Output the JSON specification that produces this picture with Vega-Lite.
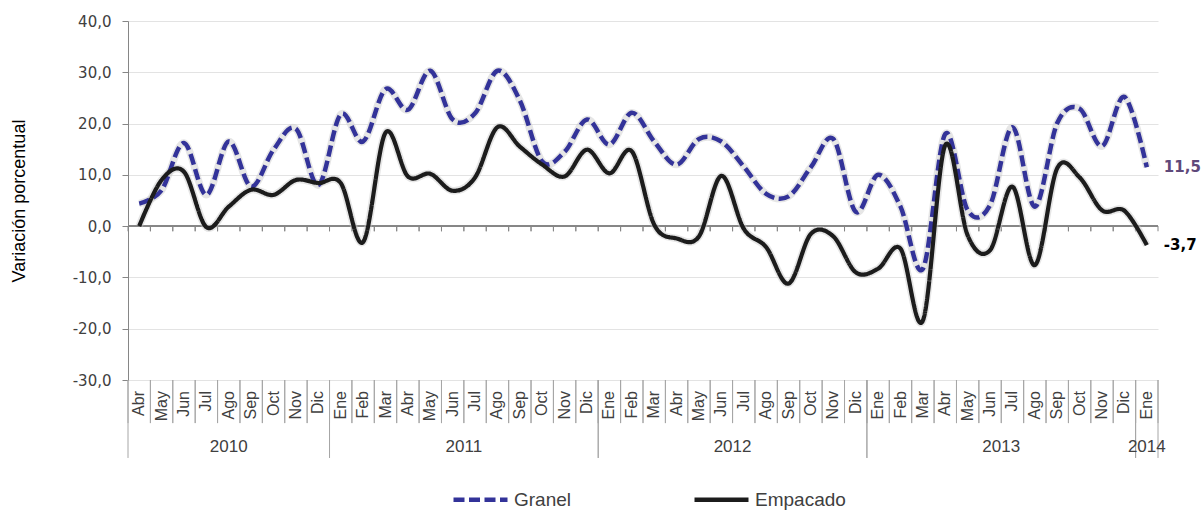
{
  "$schema": "https://vega.github.io/schema/vega-lite/v6.json",
  "width": 1030,
  "height": 359,
  "autosize": {"type": "none"},
  "padding": {"left": 128, "top": 21, "right": 46, "bottom": 131},
  "background": "white",
  "config": {
    "locale": {"number": {"decimal": ",", "thousands": ".", "grouping": [3], "currency": ["", " €"], "minus": "-"}},
    "view": {"stroke": null}
  },
  "data": {"values": [
    {"i": 0, "mes": "Abr", "anio": "2010", "Granel": 4.4, "Empacado": 0.0},
    {"i": 1, "mes": "May", "anio": "2010", "Granel": 7.0, "Empacado": 9.0},
    {"i": 2, "mes": "Jun", "anio": "2010", "Granel": 16.2, "Empacado": 10.6},
    {"i": 3, "mes": "Jul", "anio": "2010", "Granel": 6.1, "Empacado": -0.2},
    {"i": 4, "mes": "Ago", "anio": "2010", "Granel": 16.5, "Empacado": 3.8},
    {"i": 5, "mes": "Sep", "anio": "2010", "Granel": 7.7, "Empacado": 7.1},
    {"i": 6, "mes": "Oct", "anio": "2010", "Granel": 14.9, "Empacado": 6.1},
    {"i": 7, "mes": "Nov", "anio": "2010", "Granel": 19.0, "Empacado": 9.0},
    {"i": 8, "mes": "Dic", "anio": "2010", "Granel": 8.0, "Empacado": 8.4},
    {"i": 9, "mes": "Ene", "anio": "2011", "Granel": 21.8, "Empacado": 8.4},
    {"i": 10, "mes": "Feb", "anio": "2011", "Granel": 16.5, "Empacado": -3.1},
    {"i": 11, "mes": "Mar", "anio": "2011", "Granel": 26.7, "Empacado": 18.2},
    {"i": 12, "mes": "Abr", "anio": "2011", "Granel": 22.7, "Empacado": 9.7},
    {"i": 13, "mes": "May", "anio": "2011", "Granel": 30.3, "Empacado": 10.2},
    {"i": 14, "mes": "Jun", "anio": "2011", "Granel": 20.8, "Empacado": 6.9},
    {"i": 15, "mes": "Jul", "anio": "2011", "Granel": 22.0, "Empacado": 9.5},
    {"i": 16, "mes": "Ago", "anio": "2011", "Granel": 30.3, "Empacado": 19.3},
    {"i": 17, "mes": "Sep", "anio": "2011", "Granel": 24.5, "Empacado": 15.5},
    {"i": 18, "mes": "Oct", "anio": "2011", "Granel": 12.6, "Empacado": 12.0},
    {"i": 19, "mes": "Nov", "anio": "2011", "Granel": 14.5, "Empacado": 9.7},
    {"i": 20, "mes": "Dic", "anio": "2011", "Granel": 20.8, "Empacado": 14.9},
    {"i": 21, "mes": "Ene", "anio": "2012", "Granel": 15.9, "Empacado": 10.3},
    {"i": 22, "mes": "Feb", "anio": "2012", "Granel": 22.1, "Empacado": 14.6},
    {"i": 23, "mes": "Mar", "anio": "2012", "Granel": 16.5, "Empacado": 0.3},
    {"i": 24, "mes": "Abr", "anio": "2012", "Granel": 12.0, "Empacado": -2.4},
    {"i": 25, "mes": "May", "anio": "2012", "Granel": 17.0, "Empacado": -2.0},
    {"i": 26, "mes": "Jun", "anio": "2012", "Granel": 16.5, "Empacado": 9.8},
    {"i": 27, "mes": "Jul", "anio": "2012", "Granel": 11.6, "Empacado": -0.5},
    {"i": 28, "mes": "Ago", "anio": "2012", "Granel": 6.3, "Empacado": -4.1},
    {"i": 29, "mes": "Sep", "anio": "2012", "Granel": 5.8, "Empacado": -11.2},
    {"i": 30, "mes": "Oct", "anio": "2012", "Granel": 11.5, "Empacado": -1.5},
    {"i": 31, "mes": "Nov", "anio": "2012", "Granel": 17.0, "Empacado": -2.0},
    {"i": 32, "mes": "Dic", "anio": "2012", "Granel": 2.8, "Empacado": -9.0},
    {"i": 33, "mes": "Ene", "anio": "2013", "Granel": 10.0, "Empacado": -8.3},
    {"i": 34, "mes": "Feb", "anio": "2013", "Granel": 3.8, "Empacado": -4.4},
    {"i": 35, "mes": "Mar", "anio": "2013", "Granel": -8.3, "Empacado": -18.4},
    {"i": 36, "mes": "Abr", "anio": "2013", "Granel": 18.0, "Empacado": 15.8},
    {"i": 37, "mes": "May", "anio": "2013", "Granel": 3.1, "Empacado": -1.8},
    {"i": 38, "mes": "Jun", "anio": "2013", "Granel": 4.1, "Empacado": -4.7},
    {"i": 39, "mes": "Jul", "anio": "2013", "Granel": 19.3, "Empacado": 7.7},
    {"i": 40, "mes": "Ago", "anio": "2013", "Granel": 3.8, "Empacado": -7.6},
    {"i": 41, "mes": "Sep", "anio": "2013", "Granel": 20.1, "Empacado": 11.3},
    {"i": 42, "mes": "Oct", "anio": "2013", "Granel": 22.9, "Empacado": 9.5},
    {"i": 43, "mes": "Nov", "anio": "2013", "Granel": 15.6, "Empacado": 3.1},
    {"i": 44, "mes": "Dic", "anio": "2013", "Granel": 25.2, "Empacado": 3.0},
    {"i": 45, "mes": "Ene", "anio": "2014", "Granel": 11.5, "Empacado": -3.7}
  ]},
  "layer": [
    {
      "transform": [
        {"aggregate": [{"op": "min", "field": "i", "as": "ini"}, {"op": "max", "field": "i", "as": "fin"}], "groupby": ["anio"]},
        {"calculate": "datum.ini - 0.5", "as": "a"},
        {"calculate": "datum.fin + 0.5", "as": "b"},
        {"fold": ["a", "b"], "as": ["k", "pos"]}
      ],
      "mark": {"type": "rule", "color": "#a6a6a6", "strokeWidth": 1},
      "encoding": {
        "x": {"field": "pos", "type": "quantitative", "scale": {"domain": [-0.5, 45.5], "nice": false, "zero": false}, "axis": null},
        "y": {"datum": -30, "type": "quantitative", "scale": {"domain": [-30, 40], "nice": false}},
        "y2": {"datum": -45.2}
      }
    },
    {
      "transform": [
        {"calculate": "datum.i - 0.5", "as": "a"},
        {"calculate": "datum.i + 0.5", "as": "b"},
        {"fold": ["a", "b"], "as": ["k", "pos"]}
      ],
      "mark": {"type": "rule", "color": "#a6a6a6", "strokeWidth": 1},
      "encoding": {
        "x": {"field": "pos", "type": "quantitative", "scale": {"domain": [-0.5, 45.5], "nice": false, "zero": false}, "axis": null},
        "y": {"datum": -30, "type": "quantitative", "scale": {"domain": [-30, 40], "nice": false}},
        "y2": {"datum": -38.4}
      }
    },
    {
      "mark": {"type": "rule", "color": "#868686", "strokeWidth": 1},
      "encoding": {
        "y": {"datum": 0, "type": "quantitative", "scale": {"domain": [-30, 40], "nice": false},
          "axis": {
            "title": "Variación porcentual",
            "values": [-30, -20, -10, 0, 10, 20, 30, 40],
            "format": ".1f",
            "grid": true,
            "gridColor": "#e3e3e3",
            "domainColor": "#868686",
            "tickColor": "#868686",
            "tickSize": 6,
            "labelFont": "DejaVu Sans",
            "labelFontSize": 15,
            "labelColor": "#404040",
            "labelPadding": 11,
            "titleFont": "Liberation Sans",
            "titleFontSize": 18,
            "titleFontWeight": "normal",
            "titleColor": "#000000",
            "titlePadding": 44
          }
        }
      }
    },
    {
      "transform": [
        {"calculate": "datum.i - 0.5", "as": "a"},
        {"calculate": "datum.i + 0.5", "as": "b"},
        {"fold": ["a", "b"], "as": ["k", "pos"]}
      ],
      "mark": {"type": "rule", "color": "#868686", "strokeWidth": 1},
      "encoding": {
        "x": {"field": "pos", "type": "quantitative", "scale": {"domain": [-0.5, 45.5], "nice": false, "zero": false}, "axis": null},
        "y": {"datum": 0, "type": "quantitative", "scale": {"domain": [-30, 40], "nice": false}},
        "y2": {"datum": -1}
      }
    },
    {
      "mark": {"type": "text", "angle": 270, "align": "right", "baseline": "middle", "dx": -11, "font": "Liberation Sans", "fontSize": 16, "color": "#404040"},
      "encoding": {
        "x": {"field": "i", "type": "quantitative", "scale": {"domain": [-0.5, 45.5], "nice": false, "zero": false}, "axis": null},
        "y": {"datum": -30, "type": "quantitative", "scale": {"domain": [-30, 40], "nice": false}},
        "text": {"field": "mes"}
      }
    },
    {
      "transform": [
        {"aggregate": [{"op": "mean", "field": "i", "as": "centro"}], "groupby": ["anio"]}
      ],
      "mark": {"type": "text", "align": "center", "baseline": "middle", "dy": 67, "font": "Liberation Sans", "fontSize": 17, "color": "#404040"},
      "encoding": {
        "x": {"field": "centro", "type": "quantitative", "scale": {"domain": [-0.5, 45.5], "nice": false, "zero": false}, "axis": null},
        "y": {"datum": -30, "type": "quantitative", "scale": {"domain": [-30, 40], "nice": false}},
        "text": {"field": "anio"}
      }
    },
    {
      "transform": [{"fold": ["Granel", "Empacado"], "as": ["serie", "valor"]}],
      "mark": {"type": "line", "interpolate": "cardinal", "color": "#c8c8c8", "strokeWidth": 7.5, "opacity": 0.45},
      "encoding": {
        "x": {"field": "i", "type": "quantitative", "scale": {"domain": [-0.5, 45.5], "nice": false, "zero": false}, "axis": null},
        "y": {"field": "valor", "type": "quantitative", "scale": {"domain": [-30, 40], "nice": false}},
        "detail": {"field": "serie"}
      }
    },
    {
      "transform": [
        {"fold": ["Granel", "Empacado"], "as": ["serie", "valor"]},
        {"filter": "datum.serie == 'Granel'"}
      ],
      "mark": {"type": "line", "interpolate": "cardinal", "strokeWidth": 4.5},
      "encoding": {
        "x": {"field": "i", "type": "quantitative", "scale": {"domain": [-0.5, 45.5], "nice": false, "zero": false}, "axis": null},
        "y": {"field": "valor", "type": "quantitative", "scale": {"domain": [-30, 40], "nice": false}},
        "color": {"field": "serie", "type": "nominal",
          "scale": {"domain": ["Granel", "Empacado"], "range": ["#333399", "#1c1c1c"]},
          "legend": {
            "orient": "none", "legendX": 323, "legendY": 449, "direction": "horizontal", "title": null,
            "symbolType": "stroke", "symbolSize": 2916, "symbolStrokeWidth": 4.5,
            "labelFont": "Liberation Sans", "labelFontSize": 19, "labelColor": "#404040", "labelOffset": 4, "columnPadding": 113
          }
        },
        "strokeDash": {"field": "serie", "type": "nominal",
          "scale": {"domain": ["Granel", "Empacado"], "range": [[11, 4.5], [1, 0]]},
          "legend": {
            "orient": "none", "legendX": 323, "legendY": 449, "direction": "horizontal", "title": null,
            "symbolType": "stroke", "symbolSize": 2916, "symbolStrokeWidth": 4.5,
            "labelFont": "Liberation Sans", "labelFontSize": 19, "labelColor": "#404040", "labelOffset": 4, "columnPadding": 113
          }
        }
      }
    },
    {
      "transform": [
        {"fold": ["Granel", "Empacado"], "as": ["serie", "valor"]},
        {"filter": "datum.serie == 'Empacado'"}
      ],
      "mark": {"type": "line", "interpolate": "cardinal", "strokeWidth": 4.2},
      "encoding": {
        "x": {"field": "i", "type": "quantitative", "scale": {"domain": [-0.5, 45.5], "nice": false, "zero": false}, "axis": null},
        "y": {"field": "valor", "type": "quantitative", "scale": {"domain": [-30, 40], "nice": false}},
        "color": {"field": "serie", "type": "nominal", "scale": {"domain": ["Granel", "Empacado"], "range": ["#333399", "#1c1c1c"]}},
        "strokeDash": {"field": "serie", "type": "nominal", "scale": {"domain": ["Granel", "Empacado"], "range": [[11, 4.5], [1, 0]]}}
      }
    },
    {
      "transform": [
        {"fold": ["Granel", "Empacado"], "as": ["serie", "valor"]},
        {"joinaggregate": [{"op": "max", "field": "i", "as": "ultimo"}]},
        {"filter": "datum.i == datum.ultimo"}
      ],
      "mark": {"type": "text", "align": "left", "baseline": "middle", "dx": 17, "font": "DejaVu Sans", "fontSize": 15, "fontWeight": "bold"},
      "encoding": {
        "x": {"field": "i", "type": "quantitative", "scale": {"domain": [-0.5, 45.5], "nice": false, "zero": false}, "axis": null},
        "y": {"field": "valor", "type": "quantitative", "scale": {"domain": [-30, 40], "nice": false}},
        "text": {"field": "valor", "type": "quantitative", "format": ".1f"},
        "color": {"condition": {"test": "datum.serie == 'Granel'", "value": "#5f497a"}, "value": "#000000"}
      }
    }
  ]
}
